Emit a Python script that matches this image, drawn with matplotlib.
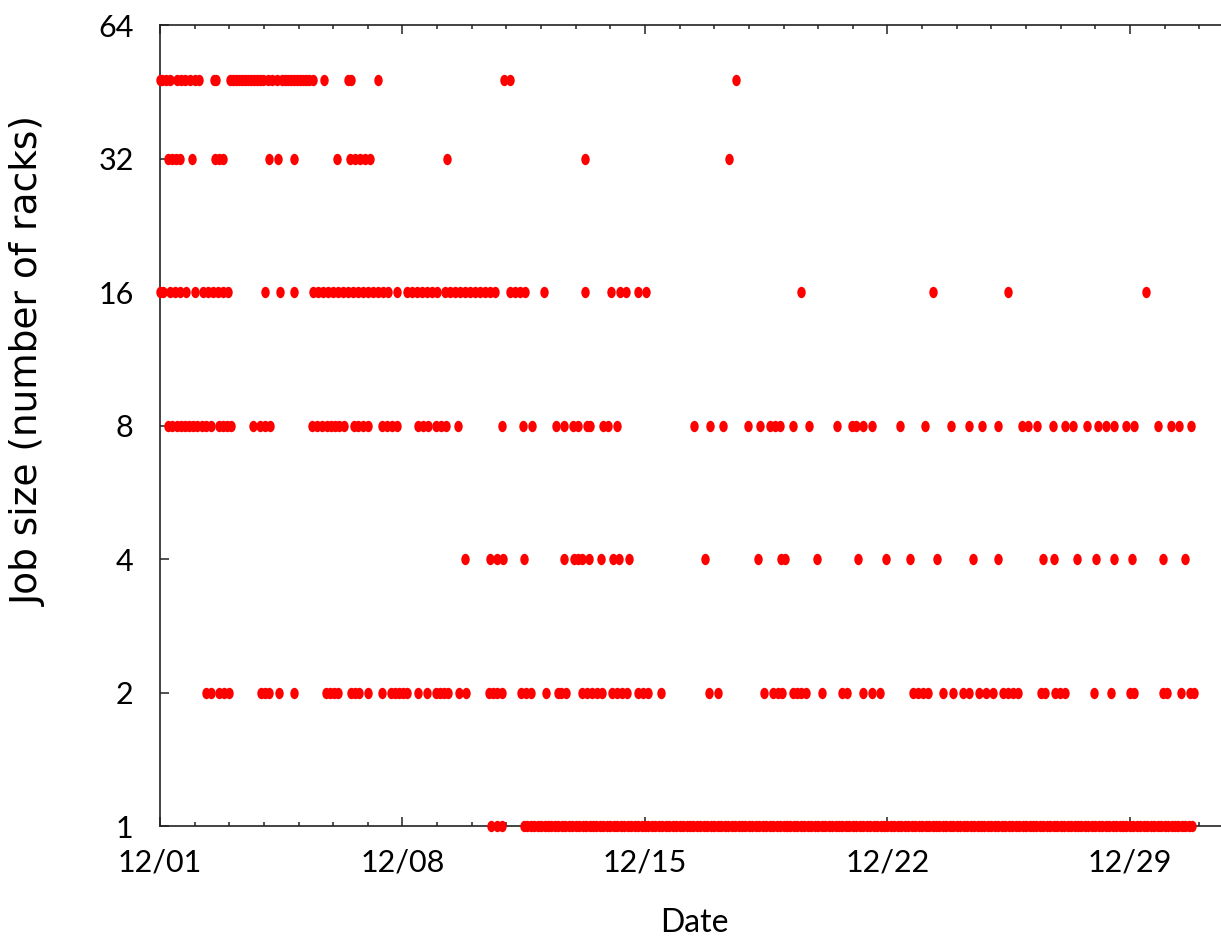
import matplotlib
matplotlib.use("Agg")
import matplotlib.pyplot as plt
from matplotlib.path import Path
from matplotlib.transforms import Affine2D
from matplotlib.ticker import FixedLocator, NullFormatter

# ================================================================
# 0. Section: DATA (days since 12/01, one list per job size)
# ================================================================
x_tick_days = [0, 7, 14, 21, 28]
x_tick_labels = ["12/01", "12/08", "12/15", "12/22", "12/29"]
y_ticks = [1, 2, 4, 8, 16, 32, 64]

days_48 = [0.0, 0.06, 0.17, 0.29, 0.49, 0.61, 0.72, 0.87, 1.01, 1.13, 1.56, 1.62,
           2.02, 2.11, 2.19, 2.28, 2.37, 2.45, 2.54, 2.63, 2.71, 2.80, 2.89, 2.97,
           3.12, 3.23, 3.38, 3.52, 3.61, 3.70, 3.78, 3.87, 3.95, 4.04, 4.13, 4.21,
           4.30, 4.42, 4.73, 5.42, 5.50, 6.29, 9.93, 10.10, 16.63]

days_32 = [0.23, 0.35, 0.46, 0.58, 0.92, 1.59, 1.70, 1.82, 3.15, 3.41, 3.87,
           5.11, 5.49, 5.63, 5.77, 5.92, 6.06, 8.29, 12.27, 16.43]

days_16 = [0.0, 0.09, 0.29, 0.43, 0.58, 0.75, 1.01, 1.24, 1.39, 1.53, 1.67, 1.82,
           1.96, 3.03, 3.46, 3.87, 4.42, 4.56, 4.71, 4.85, 4.99, 5.14, 5.28, 5.43,
           5.57, 5.72, 5.86, 6.00, 6.15, 6.29, 6.44, 6.58, 6.84, 7.13, 7.27, 7.42,
           7.56, 7.71, 7.85, 8.00, 8.23, 8.37, 8.52, 8.66, 8.80, 8.95, 9.09, 9.24,
           9.38, 9.53, 9.67, 10.10, 10.25, 10.39, 10.54, 11.09, 12.27, 13.02, 13.28,
           13.45, 13.80, 14.03, 18.50, 22.32, 24.48, 28.46]

days_8 = [0.23, 0.35, 0.49, 0.61, 0.72, 0.84, 0.95, 1.07, 1.21, 1.33, 1.47, 1.70,
          1.82, 1.93, 2.05, 2.68, 2.89, 3.03, 3.18, 4.39, 4.53, 4.68, 4.82, 4.94,
          5.05, 5.17, 5.31, 5.60, 5.72, 5.86, 6.00, 6.41, 6.55, 6.70, 6.84, 7.45,
          7.59, 7.74, 7.97, 8.11, 8.26, 8.60, 9.87, 10.48, 10.74, 11.43, 11.66,
          11.92, 12.07, 12.33, 12.41, 12.79, 12.93, 13.19, 15.42, 15.88, 16.25,
          16.97, 17.32, 17.61, 17.75, 17.90, 18.27, 18.74, 19.54, 19.98, 20.09,
          20.29, 20.55, 21.36, 22.08, 22.84, 23.35, 23.73, 24.19, 24.88, 25.06,
          25.32, 25.78, 26.13, 26.36, 26.76, 27.08, 27.31, 27.54, 27.89, 28.12,
          28.81, 29.19, 29.42, 29.76]

days_4 = [8.80, 9.53, 9.73, 9.90, 10.51, 11.66, 11.95, 12.07, 12.18, 12.38, 12.73,
          13.08, 13.25, 13.54, 15.73, 17.26, 17.93, 18.04, 18.97, 20.15, 20.96,
          21.65, 22.43, 23.47, 24.19, 25.49, 25.81, 26.47, 27.02, 27.54, 28.06,
          28.96, 29.59]

days_2 = [1.33, 1.47, 1.70, 1.85, 1.99, 2.92, 3.03, 3.15, 3.44, 3.87, 4.79, 4.91,
          5.02, 5.14, 5.51, 5.63, 5.74, 6.00, 6.41, 6.67, 6.78, 6.90, 7.01, 7.13,
          7.45, 7.71, 7.97, 8.08, 8.20, 8.31, 8.63, 8.83, 9.50, 9.61, 9.73, 9.87,
          10.42, 10.57, 10.71, 11.14, 11.49, 11.58, 11.72, 12.18, 12.33, 12.47,
          12.62, 12.76, 13.05, 13.19, 13.34, 13.48, 13.80, 13.94, 14.09, 14.46,
          15.85, 16.11, 17.44, 17.70, 17.84, 17.96, 18.27, 18.39, 18.50, 18.65,
          19.11, 19.69, 19.83, 20.29, 20.55, 20.79, 21.74, 21.88, 22.03, 22.17,
          22.60, 22.89, 23.18, 23.35, 23.64, 23.85, 24.05, 24.34, 24.48, 24.62,
          24.77, 25.43, 25.55, 25.84, 25.98, 26.13, 26.96, 27.45, 28.00, 28.12,
          28.96, 29.07, 29.47, 29.73, 29.85]

# single-rack jobs: a few on 12/10, then one nearly every couple of hours
days_1 = [9.56, 9.73, 9.87,
          10.5, 10.6, 10.7, 10.8, 10.9,
          11.0, 11.1, 11.2, 11.3, 11.4, 11.5, 11.6, 11.7, 11.8, 11.9,
          12.0, 12.1, 12.2, 12.3, 12.4, 12.5, 12.6, 12.7, 12.8, 12.9,
          13.0, 13.1, 13.2, 13.3, 13.4, 13.5, 13.6, 13.7, 13.8, 13.9,
          14.0, 14.1, 14.2, 14.3, 14.4, 14.5, 14.6, 14.7, 14.8, 14.9,
          15.0, 15.1, 15.2, 15.3, 15.4, 15.5, 15.6, 15.7, 15.8, 15.9,
          16.0, 16.1, 16.2, 16.3, 16.4, 16.5, 16.6, 16.7, 16.8, 16.9,
          17.0, 17.1, 17.2, 17.3, 17.4, 17.5, 17.6, 17.7, 17.8, 17.9,
          18.0, 18.1, 18.2, 18.3, 18.4, 18.5, 18.6, 18.7, 18.8, 18.9,
          19.0, 19.1, 19.2, 19.3, 19.4, 19.5, 19.6, 19.7, 19.8, 19.9,
          20.0, 20.1, 20.2, 20.3, 20.4, 20.5, 20.6, 20.7, 20.8, 20.9,
          21.0, 21.1, 21.2, 21.3, 21.4, 21.5, 21.6, 21.7, 21.8, 21.9,
          22.0, 22.1, 22.2, 22.3, 22.4, 22.5, 22.6, 22.7, 22.8, 22.9,
          23.0, 23.1, 23.2, 23.3, 23.4, 23.5, 23.6, 23.7, 23.8, 23.9,
          24.0, 24.1, 24.2, 24.3, 24.4, 24.5, 24.6, 24.7, 24.8, 24.9,
          25.0, 25.1, 25.2, 25.3, 25.4, 25.5, 25.6, 25.7, 25.8, 25.9,
          26.0, 26.1, 26.2, 26.3, 26.4, 26.5, 26.6, 26.7, 26.8, 26.9,
          27.0, 27.1, 27.2, 27.3, 27.4, 27.5, 27.6, 27.7, 27.8, 27.9,
          28.0, 28.1, 28.2, 28.3, 28.4, 28.5, 28.6, 28.7, 28.8, 28.9,
          29.0, 29.1, 29.2, 29.3, 29.4, 29.5, 29.6, 29.7, 29.8]

job_rows = [
    (48, days_48),
    (32, days_32),
    (16, days_16),
    (8, days_8),
    (4, days_4),
    (2, days_2),
    (1, days_1),
]

# ================================================================
# 1. Section: FIGURE
# ================================================================
fig = plt.figure(figsize=(12.21, 9.41), dpi=100)
ax = fig.add_axes((0.13104, 0.12221, 0.87469, 0.85122))

# slightly tall dots, like the original gnuplot points
ellipse = Path.unit_circle().transformed(Affine2D().scale(0.74, 1.0))

for size, days in job_rows:
    ax.plot(
        days,
        [size] * len(days),
        linestyle="none",
        marker=ellipse,
        markersize=8.2,
        markeredgewidth=0,
        color="#ff0000",
        clip_on=False,
        zorder=3,
    )

ax.set_yscale("log", base=2)
ax.set_ylim(1, 64)
ax.set_xlim(0, 30.83)

ax.yaxis.set_major_locator(FixedLocator(y_ticks))
ax.set_yticklabels([str(v) for v in y_ticks])
ax.yaxis.set_minor_locator(FixedLocator([]))
ax.yaxis.set_minor_formatter(NullFormatter())

ax.xaxis.set_major_locator(FixedLocator(x_tick_days))
ax.set_xticklabels(x_tick_labels)
ax.xaxis.set_minor_locator(FixedLocator(list(range(0, 31))))

ax.tick_params(axis="both", which="both", direction="in", top=True, right=False,
               color="#222222", width=1.1)
ax.tick_params(axis="both", which="major", length=6.2)
ax.tick_params(axis="x", which="minor", length=3.2)
ax.tick_params(axis="x", which="major", pad=16, labelsize=22)
ax.tick_params(axis="y", which="major", pad=19, labelsize=22)

for label in ax.get_xticklabels() + ax.get_yticklabels():
    label.set_fontfamily(["Lato", "DejaVu Sans"])

for spine in ax.spines.values():
    spine.set_color("#222222")
    spine.set_linewidth(1.2)
ax.spines["right"].set_visible(False)

ax.set_xlabel("Date", fontsize=23, family=["Lato", "DejaVu Sans"])
ax.set_ylabel("Job size (number of racks)", fontsize=27, family="DejaVu Sans")
ax.xaxis.set_label_coords(0.5, -0.102)
ax.yaxis.set_label_coords(-0.106, 0.58)

fig.savefig("out.png", dpi=100)
